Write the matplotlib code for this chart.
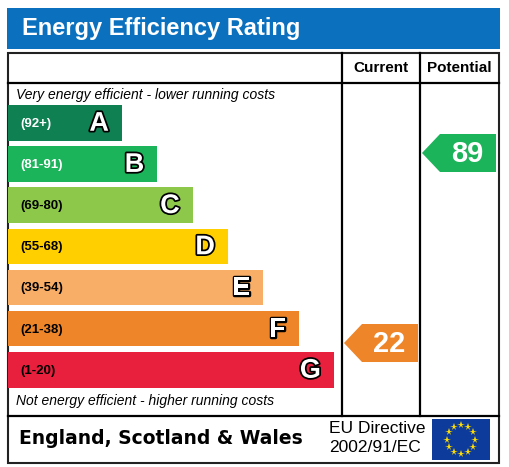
import numpy as np
import matplotlib
matplotlib.use("Agg")
import matplotlib.pyplot as plt
from matplotlib.patches import Rectangle, Polygon
import matplotlib.patheffects as pe

# ---- data ----
bands = ["A", "B", "C", "D", "E", "F", "G"]
ranges = ["(92+)", "(81-91)", "(69-80)", "(55-68)", "(39-54)", "(21-38)", "(1-20)"]
band_min = [92, 81, 69, 55, 39, 21, 1]
band_colors = ["#0f8052", "#1bb45a", "#8dc84a", "#ffcf00", "#f9ae67", "#ef8529", "#e81f3d"]
range_text_colors = ["white", "white", "black", "black", "black", "black", "black"]
current_rating = 22
potential_rating = 89
title = "Energy Efficiency Rating"
col_headers = ["Current", "Potential"]
top_note = "Very energy efficient - lower running costs"
bottom_note = "Not energy efficient - higher running costs"
footer_left = "England, Scotland & Wales"
footer_right = ["EU Directive", "2002/91/EC"]

# ---- layout (pixel units) ----
W, H = 509, 467
fig = plt.figure(figsize=(W / 100, H / 100), dpi=100)
ax = fig.add_axes([0, 0, 1, 1])
ax.set_xlim(0, W)
ax.set_ylim(H, 0)
ax.axis("off")

FONT = "Liberation Sans"
frame_l, frame_r, frame_t, frame_b = 8, 499, 53, 463
header_y = 83
footer_y = 416
col1, col2 = 342, 420
row_top0, row_pitch, bar_h = 105, 41.17, 35.5
bar_end0, bar_step = 122, 35.33

# title bar
ax.add_patch(Rectangle((7, 8), 493, 41, facecolor="#0b71bf", edgecolor="none"))
ax.text(22, 29, title, color="white", fontsize=17, fontweight="bold",
        family=FONT, va="center", ha="left")

# frame and grid lines
ax.add_patch(Rectangle((frame_l, frame_t), frame_r - frame_l, frame_b - frame_t,
                       fill=False, edgecolor="#222222", lw=1.5))
ax.plot([frame_l, frame_r], [header_y, header_y], color="black", lw=1.6)
ax.plot([frame_l, frame_r], [footer_y, footer_y], color="black", lw=1.6)
for cx in (col1, col2):
    ax.plot([cx, cx], [frame_t, footer_y], color="black", lw=1.6)

ax.text((col1 + col2) / 2, 68, col_headers[0], fontsize=11, fontweight="bold",
        family=FONT, ha="center", va="center")
ax.text((col2 + frame_r) / 2, 68, col_headers[1], fontsize=11, fontweight="bold",
        family=FONT, ha="center", va="center")

ax.text(16, 95, top_note, fontsize=10, style="italic", family=FONT,
        ha="left", va="center")
ax.text(16, 401, bottom_note, fontsize=10, style="italic", family=FONT,
        ha="left", va="center")

# bars
idx = np.arange(len(bands))
centers = row_top0 + idx * row_pitch + bar_h / 2
lengths = bar_end0 + idx * bar_step - frame_l
ax.barh(centers, lengths, left=frame_l, height=bar_h, color=band_colors,
        edgecolor="none")
outline = [pe.Stroke(linewidth=2.5, foreground="black"), pe.Normal()]
for i in idx:
    ax.text(20, centers[i] + 1, ranges[i], fontsize=9.5, fontweight="bold",
            family=FONT, color=range_text_colors[i], ha="left", va="center")
    ax.text(frame_l + lengths[i] - 13, centers[i] + 1, bands[i], fontsize=19.5,
            fontweight="bold", family=FONT, color="white", ha="right",
            va="center", path_effects=outline)


def band_of(v):
    for i, m in enumerate(band_min):
        if v >= m:
            return i
    return len(band_min) - 1


def y_of(v):
    return 121.8 + (100 - v) * 2.836


def arrow(v, left, right):
    yc = y_of(v)
    hh = 19
    tip = left + 2
    sh = tip + 18
    r = right - 2
    c = band_colors[band_of(v)]
    ax.add_patch(Polygon([(tip, yc), (sh, yc - hh), (r, yc - hh), (r, yc + hh),
                          (sh, yc + hh)], closed=True, facecolor=c,
                         edgecolor="none"))
    ax.text((sh + r) / 2 - 1, yc + 1, str(v), fontsize=21, fontweight="bold",
            family=FONT, color="white", ha="center", va="center")


arrow(current_rating, col1, col2)
arrow(potential_rating, col2, frame_r - 1)

# footer
ax.text(19, 438, footer_left, fontsize=13.5, fontweight="bold",
        family="DejaVu Sans", ha="left", va="center")
ax.text(329, 428.5, footer_right[0], fontsize=12.5, family=FONT,
        ha="left", va="center")
ax.text(329, 448, footer_right[1], fontsize=12.5, family=FONT,
        ha="left", va="center")

# EU flag
fx, fy, fw, fh = 432, 419, 58, 41
ax.add_patch(Rectangle((fx, fy), fw, fh, facecolor="#0d3b9c", edgecolor="none"))
ang = np.linspace(0, 2 * np.pi, 12, endpoint=False)
ax.plot(fx + fw / 2 + 14 * np.cos(ang), fy + fh / 2 + 14.5 * np.sin(ang),
        linestyle="none", marker="*", markersize=5.5, color="#ffdd00",
        markeredgewidth=0)

fig.savefig("out.png", dpi=100)
